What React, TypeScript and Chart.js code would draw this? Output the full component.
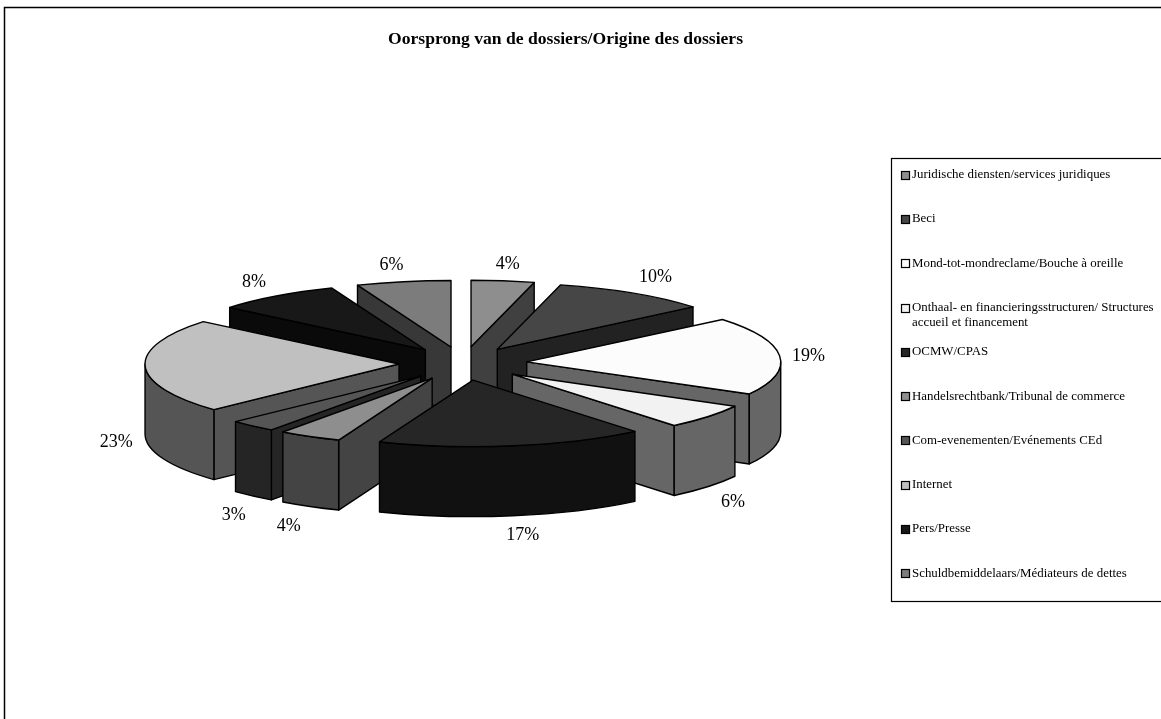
import React, { useEffect, useRef } from "react";
import { Chart, registerables } from "chart.js";

Chart.register(...registerables);

// Share of dossiers per origin, in percent.
const categories: (string | string[])[] = [
  "Juridische diensten/services juridiques",
  "Beci",
  "Mond-tot-mondreclame/Bouche à oreille",
  ["Onthaal- en financieringsstructuren/ Structures", "accueil et financement"],
  "OCMW/CPAS",
  "Handelsrechtbank/Tribunal de commerce",
  "Com-evenementen/Evénements CEd",
  "Internet",
  "Pers/Presse",
  "Schuldbemiddelaars/Médiateurs de dettes",
];
const shares = [4, 10, 19, 6, 17, 4, 3, 23, 8, 6];

const topColors = ["#8e8e8e", "#464646", "#fcfcfc", "#f2f2f2", "#262626", "#8e8e8e", "#555555", "#c0c0c0", "#181818", "#7c7c7c"];
const wallColors = ["#404040", "#222222", "#666666", "#666666", "#111111", "#444444", "#252525", "#555555", "#0a0a0a", "#383838"];

// Label placement relative to the outer edge of each slice.
const labelNudges = [
  [5, -17], [22, -16], [29, 1], [25, 16], [10, 19],
  [-21, 20], [-19, 19], [-29, 6], [-22, -14], [-12, -16],
];

const SERIF = '"Liberation Serif", "Times New Roman", serif';
const pie = { x: 463, y: 363.5, radius: 254, tilt: 0.262, explode: 64, depth: 70 };
const legendBox = { x: 891.5, top: 158.5, bottom: 601.5, right: 1300 };
const legendRows = { first: 174.7, step: 44.3, wrap: 15, swatchX: 901.5, swatchSize: 8, textX: 912 };

const outline = (ctx: CanvasRenderingContext2D) => {
  ctx.strokeStyle = "#000000";
  ctx.lineWidth = 1.4;
  ctx.lineJoin = "round";
  ctx.stroke();
};

// Extruded pie: slices are painted back to front, walls first, then the
// library's own arc element squashed into an ellipse as the top face.
const pie3d = {
  id: "pie3d",
  beforeDraw(chart: any) {
    const { ctx } = chart;
    ctx.save();
    ctx.strokeStyle = "#000000";
    ctx.lineWidth = 1.5;
    ctx.strokeRect(4.5, 7.5, 1400, 1000);
    ctx.restore();
  },
  beforeDatasetDraw(chart: any) {
    const { ctx } = chart;
    const arcs: any[] = chart.getDatasetMeta(0).data;
    const { x: cx, y: cy, tilt, explode, depth } = pie;
    const order = arcs
      .map((arc, i) => ({ arc, i, mid: (arc.startAngle + arc.endAngle) / 2 }))
      .sort((a, b) => Math.sin(a.mid) - Math.sin(b.mid));

    for (const { arc, i, mid } of order) {
      const { startAngle: s, endAngle: e, outerRadius: r } = arc;
      const ax = cx + Math.cos(mid) * explode;
      const ay = cy + Math.sin(mid) * explode * tilt;
      const rim = (a: number) => [ax + r * Math.cos(a), ay + r * tilt * Math.sin(a)];

      ctx.save();
      ctx.fillStyle = wallColors[i];

      const radialWall = (a: number) => {
        const [px, py] = rim(a);
        ctx.beginPath();
        ctx.moveTo(ax, ay);
        ctx.lineTo(px, py);
        ctx.lineTo(px, py + depth);
        ctx.lineTo(ax, ay + depth);
        ctx.closePath();
        ctx.fill();
        outline(ctx);
      };
      if (Math.cos(s) < -1e-6) radialWall(s);
      if (Math.cos(e) > 1e-6) radialWall(e);

      const lo = Math.max(s, 0);
      const hi = Math.min(e, Math.PI);
      if (hi > lo) {
        ctx.beginPath();
        ctx.ellipse(ax, ay, r, r * tilt, 0, lo, hi);
        ctx.ellipse(ax, ay + depth, r, r * tilt, 0, hi, lo, true);
        ctx.closePath();
        ctx.fill();
        outline(ctx);
      }

      // Top face, drawn by the arc element under the squashing transform.
      ctx.save();
      ctx.translate(ax, ay);
      ctx.scale(1, tilt);
      ctx.translate(-arc.x, -arc.y);
      arc.draw(ctx);
      ctx.restore();

      ctx.beginPath();
      ctx.moveTo(ax, ay);
      ctx.ellipse(ax, ay, r, r * tilt, 0, s, e);
      ctx.closePath();
      outline(ctx);
      ctx.restore();
    }
    return false;
  },
  afterDraw(chart: any) {
    const { ctx } = chart;
    const arcs: any[] = chart.getDatasetMeta(0).data;
    const { x: cx, y: cy, tilt, explode, depth } = pie;

    // Percentage labels beside the slices; front slices carry theirs below the wall.
    ctx.save();
    ctx.fillStyle = "#000000";
    ctx.font = `18px ${SERIF}`;
    ctx.textAlign = "center";
    ctx.textBaseline = "middle";
    arcs.forEach((arc, i) => {
      const mid = (arc.startAngle + arc.endAngle) / 2;
      const reach = arc.outerRadius + explode;
      const lx = cx + Math.cos(mid) * reach + labelNudges[i][0];
      const below = Math.sin(mid) > 0;
      const ly = cy + Math.sin(mid) * reach * tilt + labelNudges[i][1] + (below ? depth : 0);
      ctx.fillText(`${shares[i]}%`, lx, ly);
    });
    ctx.restore();

    // Legend box, open on its right side past the edge of the canvas.
    ctx.save();
    ctx.strokeStyle = "#000000";
    ctx.lineWidth = 1.2;
    ctx.strokeRect(legendBox.x, legendBox.top, legendBox.right - legendBox.x, legendBox.bottom - legendBox.top);
    ctx.font = `12.9px ${SERIF}`;
    ctx.textBaseline = "middle";
    ctx.textAlign = "left";
    chart.data.labels.forEach((label: string | string[], i: number) => {
      const y = legendRows.first + legendRows.step * i;
      const size = legendRows.swatchSize;
      ctx.fillStyle = topColors[i];
      ctx.fillRect(legendRows.swatchX, Math.round(y - size / 2) + 0.5, size, size);
      ctx.strokeStyle = "#000000";
      ctx.lineWidth = 1.2;
      ctx.strokeRect(legendRows.swatchX, Math.round(y - size / 2) + 0.5, size, size);
      ctx.fillStyle = "#000000";
      const lines = Array.isArray(label) ? label : [label];
      lines.forEach((line, n) => ctx.fillText(line, legendRows.textX, y + n * legendRows.wrap));
    });
    ctx.restore();
  },
};

export default function App() {
  const ref = useRef<HTMLCanvasElement>(null);

  useEffect(() => {
    const chart = new Chart(ref.current!, {
      type: "pie",
      data: {
        labels: categories as any,
        datasets: [{ data: shares, backgroundColor: topColors, borderWidth: 0, radius: pie.radius } as any],
      },
      options: {
        responsive: false,
        animation: false,
        events: [],
        layout: { padding: { right: 30 } },
        plugins: {
          legend: { display: false },
          tooltip: { enabled: false },
          title: {
            display: true,
            text: "Oorsprong van de dossiers/Origine des dossiers",
            fullSize: false,
            color: "#000000",
            font: { family: SERIF, size: 17.6, weight: "bold" },
            padding: { top: 29, bottom: 10 },
          },
        },
      } as any,
      plugins: [pie3d as any],
    });
    return () => chart.destroy();
  }, []);

  return (
    <canvas
      ref={ref}
      width={1161}
      height={719}
      style={{ position: "absolute", left: 0, top: 0, display: "block" }}
    />
  );
}
